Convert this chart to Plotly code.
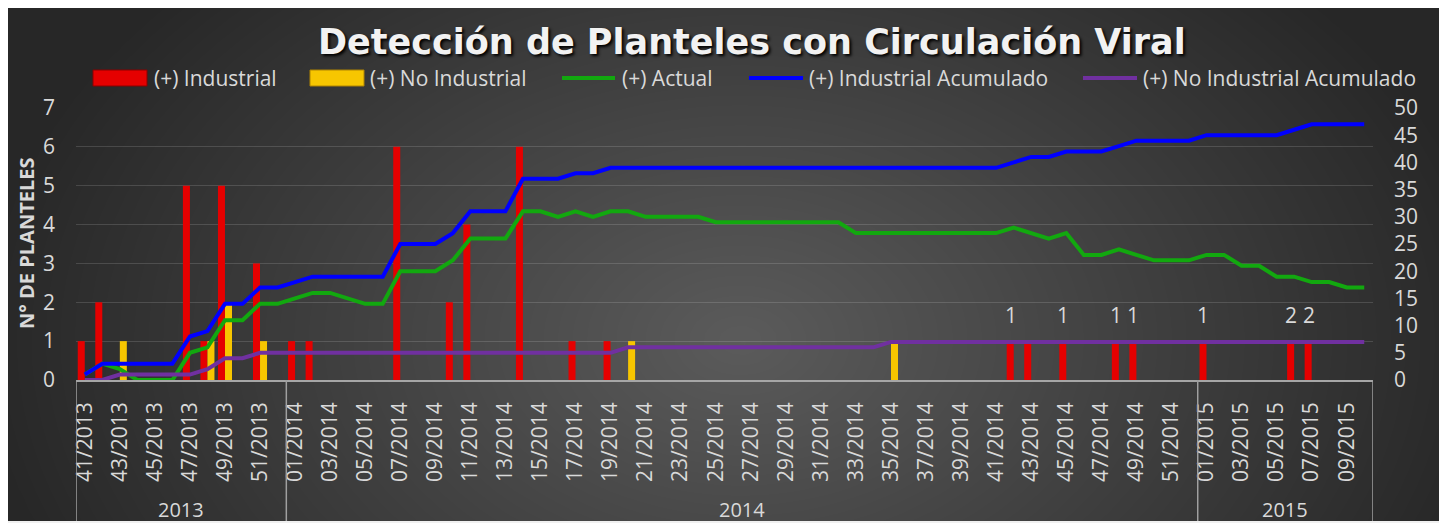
import numpy as np
import plotly.graph_objects as go

# the page has the browser's 8px body margin at left/top; the figure runs to the window edge
PAGE_W, PAGE_H = 1447, 523
OFF = 8
W, H = PAGE_W - OFF, PAGE_H - OFF

# ---------------- data ----------------
years = ["2013", "2014", "2015"]
year_weeks = [list(range(41, 53)), list(range(1, 53)), list(range(1, 11))]
categories = [f"{w:02d}/{y}" for y, ws in zip(years, year_weeks) for w in ws]

industrial = (
    [1, 2, 0, 0, 0, 0, 5, 1, 5, 0, 3, 0]
    + [1, 1, 0, 0, 0, 0, 6, 0, 0, 2,
       4, 0, 0, 6, 0, 0, 1, 0, 1, 0,
       0, 0, 0, 0, 0, 0, 0, 0, 0, 0,
       0, 0, 0, 0, 0, 0, 0, 0, 0, 0,
       0, 1, 1, 0, 1, 0, 0, 1, 1, 0,
       0, 0]
    + [1, 0, 0, 0, 0, 1, 1, 0, 0, 0]
)
no_industrial = (
    [0, 0, 1, 0, 0, 0, 0, 1, 2, 0, 1, 0]
    + [0, 0, 0, 0, 0, 0, 0, 0, 0, 0,
       0, 0, 0, 0, 0, 0, 0, 0, 0, 1,
       0, 0, 0, 0, 0, 0, 0, 0, 0, 0,
       0, 0, 0, 0, 1, 0, 0, 0, 0, 0,
       0, 0, 0, 0, 0, 0, 0, 0, 0, 0,
       0, 0]
    + [0, 0, 0, 0, 0, 0, 0, 0, 0, 0]
)
actual = (
    [1, 3, 2, 0, 0, 0, 5, 6, 11, 11, 14, 14]
    + [15, 16, 16, 15, 14, 14, 20, 20, 20, 22,
       26, 26, 26, 31, 31, 30, 31, 30, 31, 31,
       30, 30, 30, 30, 29, 29, 29, 29, 29, 29,
       29, 29, 27, 27, 27, 27, 27, 27, 27, 27,
       27, 28, 27, 26, 27, 23, 23, 24, 23, 22,
       22, 22]
    + [23, 23, 21, 21, 19, 19, 18, 18, 17, 17]
)
industrial_acum = (
    [1, 3, 3, 3, 3, 3, 8, 9, 14, 14, 17, 17]
    + [18, 19, 19, 19, 19, 19, 25, 25, 25, 27,
       31, 31, 31, 37, 37, 37, 38, 38, 39, 39,
       39, 39, 39, 39, 39, 39, 39, 39, 39, 39,
       39, 39, 39, 39, 39, 39, 39, 39, 39, 39,
       39, 40, 41, 41, 42, 42, 42, 43, 44, 44,
       44, 44]
    + [45, 45, 45, 45, 45, 46, 47, 47, 47, 47]
)
no_industrial_acum = (
    [0, 0, 1, 1, 1, 1, 1, 2, 4, 4, 5, 5]
    + [5, 5, 5, 5, 5, 5, 5, 5, 5, 5,
       5, 5, 5, 5, 5, 5, 5, 5, 5, 6,
       6, 6, 6, 6, 6, 6, 6, 6, 6, 6,
       6, 6, 6, 6, 7, 7, 7, 7, 7, 7,
       7, 7, 7, 7, 7, 7, 7, 7, 7, 7,
       7, 7]
    + [7, 7, 7, 7, 7, 7, 7, 7, 7, 7]
)
label_weeks = ["42/2014", "45/2014", "48/2014", "49/2014", "01/2015", "06/2015", "07/2015"]
label_text = ["1", "1", "1", "1", "1", "2", "2"]

series_names = ["(+) Industrial", "(+) No Industrial", "(+) Actual",
                "(+) Industrial Acumulado", "(+) No Industrial Acumulado"]
title_text = "Detección de Planteles con Circulación Viral"
y_title = "N° DE PLANTELES"

# ---------------- style ----------------
RED, RED_EDGE = "#e50000", "#8a0000"
YEL, YEL_EDGE = "#f7c600", "#b08400"
GREEN, BLUE, PURPLE = "#12a80f", "#0000ff", "#7030a0"
TXT = "#d9d9d9"
FONT = "Open Sans"


def fx(p):  # page pixel -> paper fraction
    return (p - OFF) / W


def fy(p):
    return 1 - (p - OFF) / H


fig = go.Figure()

# background gradient (style only)
nx, ny = 120, 50
gx = np.linspace(OFF, 1443, nx)
gy = np.linspace(OFF, 521, ny)
GX, GY = np.meshgrid(gx, gy)
r = np.sqrt(((GX - 740) / 760) ** 2 + ((GY - 340) / 520) ** 2)
Z = np.clip(1 - r, 0, 1)
fig.add_trace(go.Heatmap(
    z=Z[::-1], x=np.linspace(0, 1, nx), y=np.linspace(0, 1, ny),
    xaxis="x", yaxis="y", colorscale=[[0, "#272727"], [1, "#5b5b5b"]],
    zmin=0, zmax=1, showscale=False, zsmooth="best", hoverinfo="skip"))

fig.add_trace(go.Bar(x=categories, y=industrial, name=series_names[0],
                     xaxis="x2", yaxis="y2",
                     marker=dict(color=RED, line=dict(width=0))))
fig.add_trace(go.Bar(x=categories, y=no_industrial, name=series_names[1],
                     xaxis="x2", yaxis="y2",
                     marker=dict(color=YEL, line=dict(width=0))))
fig.add_trace(go.Scatter(x=categories, y=actual, name=series_names[2], mode="lines",
                         xaxis="x2", yaxis="y3", line=dict(color=GREEN, width=4)))
fig.add_trace(go.Scatter(x=categories, y=industrial_acum, name=series_names[3], mode="lines",
                         xaxis="x2", yaxis="y3", line=dict(color=BLUE, width=4)))
fig.add_trace(go.Scatter(x=categories, y=no_industrial_acum, name=series_names[4], mode="lines",
                         xaxis="x2", yaxis="y3", line=dict(color=PURPLE, width=4)))

annotations = []
shapes = []

# bar value labels
for wk, t in zip(label_weeks, label_text):
    annotations.append(dict(x=wk, y=industrial[categories.index(wk)], xref="x2", yref="y2",
                            text=t, showarrow=False, yshift=26, xshift=-3,
                            yanchor="middle",
                            font=dict(family=FONT, size=21, color=TXT)))

# year group labels and dividers
start = 0
bounds = [-0.5]
for yname, ws in zip(years, year_weeks):
    n = len(ws)
    annotations.append(dict(x=start + (n - 1) / 2, y=fy(509), xref="x2", yref="paper",
                            text=yname, showarrow=False, yanchor="middle",
                            font=dict(family=FONT, size=20, color=TXT)))
    start += n
    bounds.append(start - 0.5)
for b in bounds:
    shapes.append(dict(type="line", xref="x2", yref="paper", x0=b, x1=b,
                       y0=fy(380), y1=fy(521), line=dict(color="#a0a0a0", width=1.5)))

# title
annotations.append(dict(x=fx(752), y=fy(42), xref="paper", yref="paper",
                        text="<b>" + title_text + "</b>", showarrow=False,
                        xanchor="center", yanchor="middle",
                        font=dict(family="DejaVu Sans", size=35, color="#f2f2f2",
                                  shadow="2px 2px 3px #000000")))

# y title
annotations.append(dict(x=fx(26), y=fy(244), xref="paper", yref="paper",
                        text="<b>" + y_title + "</b>", showarrow=False, textangle=-90,
                        xanchor="center", yanchor="middle",
                        font=dict(family=FONT, size=20, color=TXT)))

# custom legend
leg_y = 78
leg = [
    ("rect", 93, 147, RED, RED_EDGE, 152),
    ("rect", 310, 364, YEL, YEL_EDGE, 368),
    ("line", 562, 615, GREEN, None, 620),
    ("line", 749, 803, BLUE, None, 807),
    ("line", 1083, 1137, PURPLE, None, 1141),
]
for (kind, x0, x1, col, edge, tx), name in zip(leg, series_names):
    if kind == "rect":
        shapes.append(dict(type="rect", xref="paper", yref="paper",
                           x0=fx(x0), x1=fx(x1), y0=fy(leg_y - 8), y1=fy(leg_y + 8),
                           fillcolor=col, line=dict(color=edge, width=1)))
    else:
        shapes.append(dict(type="line", xref="paper", yref="paper",
                           x0=fx(x0), x1=fx(x1), y0=fy(leg_y), y1=fy(leg_y),
                           line=dict(color=col, width=4)))
    annotations.append(dict(x=fx(tx), y=fy(leg_y), xref="paper", yref="paper",
                            text=name, showarrow=False, xanchor="left", yanchor="middle",
                            font=dict(family=FONT, size=21, color=TXT)))

fig.update_layout(
    width=W, height=H, margin=dict(l=0, r=0, t=0, b=0, pad=0, autoexpand=False),
    paper_bgcolor="#f0f0f0", plot_bgcolor="rgba(0,0,0,0)",
    showlegend=False, barmode="group", bargap=0.2, bargroupgap=0,
    font=dict(family=FONT, color=TXT),
    xaxis=dict(domain=[0, fx(1443)], range=[0, 1], visible=False, fixedrange=True,
               automargin=False),
    yaxis=dict(domain=[fy(521), 1], range=[0, 1], visible=False, fixedrange=True,
               automargin=False),
    xaxis2=dict(domain=[fx(76), fx(1373)], anchor="y2", type="category",
                categoryorder="array", categoryarray=categories,
                range=[-0.5, len(categories) - 0.5], automargin=False,
                tickmode="array", tickvals=categories[::2], tickangle=-90,
                tickfont=dict(family=FONT, size=21, color=TXT),
                showgrid=False, showline=True, linecolor="#a6a6a6", linewidth=1.5,
                ticks="", ticklabelstandoff=12),
    yaxis2=dict(domain=[fy(380), fy(108)], anchor="x2", range=[0, 7], dtick=1,
                automargin=False,
                gridcolor="rgba(255,255,255,0.14)", gridwidth=1.2, zeroline=False,
                tickfont=dict(family=FONT, size=21, color=TXT), ticklabelstandoff=20,
                showline=False),
    yaxis3=dict(overlaying="y2", anchor="x2", side="right", range=[0, 50], dtick=5,
                automargin=False, showgrid=False, zeroline=False,
                tickfont=dict(family=FONT, size=21, color=TXT), ticklabelstandoff=20),
    annotations=annotations, shapes=shapes,
)

fig.write_html("out.html")
